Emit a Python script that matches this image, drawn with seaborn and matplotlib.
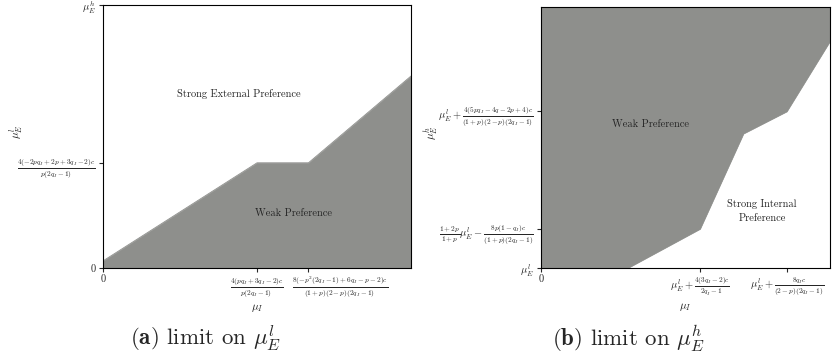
import matplotlib
matplotlib.use("Agg")
import matplotlib.pyplot as plt
import matplotlib.transforms as mtransforms
import seaborn as sns
import pandas as pd

sns.set_style("ticks")
plt.rcParams['font.family'] = ['cmr10', 'DejaVu Serif']
plt.rcParams['mathtext.fontset'] = 'cm'
plt.rcParams['axes.unicode_minus'] = False
plt.rcParams['axes.formatter.use_mathtext'] = True

GRAY = '#8e8f8c'

# panel (a): upper edge of the weak preference region
a_x = [0.0, 5.0, 6.67, 10.0]
a_y = [0.27, 4.0, 4.0, 7.3]
a_xticks = [0.0, 5.0, 6.67]
a_xticklabels = ['0',
                 r'$\frac{4(pq_I+3q_I-2)c}{p(2q_I-1)}$',
                 r'$\frac{8(-p^2(2q_I-1)+6q_I-p-2)c}{(1+p)(2-p)(2q_I-1)}$']
a_yticks = [0.0, 4.0, 10.0]
a_yticklabels = ['0',
                 r'$\frac{4(-2pq_I+2p+3q_I-2)c}{p(2q_I-1)}$',
                 r'$\mu_E^h$']

# panel (b): lower edge of the weak preference region
b_x = [0.0, 3.0, 5.5, 7.0, 8.5, 10.0]
b_y = [0.0, 0.0, 1.5, 5.15, 6.0, 8.7]
b_xticks = [0.0, 5.5, 8.5]
b_xticklabels = ['0',
                 r'$\mu_E^l+\frac{4(3q_I-2)c}{2q_I-1}$',
                 r'$\mu_E^l+\frac{8q_Ic}{(2-p)(2q_I-1)}$']
b_yticks = [0.0, 1.5, 6.0]
b_yticklabels = [r'$\mu_E^l$',
                 r'$\frac{1+2p}{1+p}\mu_E^l-\frac{8p(1-q_I)c}{(1+p)(2q_I-1)}$',
                 r'$\mu_E^l+\frac{4(5pq_I-4q-2p+4)c}{(1+p)(2-p)(2q_I-1)}$']

fig = plt.figure(figsize=(8.33, 3.6), dpi=100)
ax1 = fig.add_axes([0.1237, 0.2556, 0.3697, 0.7305])
ax2 = fig.add_axes([0.6495, 0.2556, 0.347, 0.7250])

# (a)
df_a = pd.DataFrame({'x': a_x, 'y': a_y})
sns.lineplot(data=df_a, x='x', y='y', ax=ax1, color=GRAY, lw=0.6, zorder=1)
ax1.fill_between(a_x, 0, a_y, facecolor=GRAY, edgecolor=GRAY, lw=0.5, zorder=2)
ax1.set_xlim(0, 10)
ax1.set_ylim(0, 10)
ax1.set_xticks(a_xticks)
ax1.set_xticklabels(a_xticklabels)
ax1.set_yticks(a_yticks)
ax1.set_yticklabels(a_yticklabels)
ax1.set_xlabel(r'$\mu_I$', fontsize=8, labelpad=2)
ax1.set_ylabel(r'$\mu_E^l$', fontsize=8)
ax1.yaxis.set_label_coords(-0.255, 0.52)
ax1.text(4.4, 6.6, 'Strong External Preference', ha='center', va='center', fontsize=7.5)
ax1.text(6.2, 2.1, 'Weak Preference', ha='center', va='center', fontsize=7.5)

# (b)
df_b = pd.DataFrame({'x': b_x, 'y': b_y})
sns.lineplot(data=df_b, x='x', y='y', ax=ax2, color=GRAY, lw=0.6, zorder=1)
ax2.fill_between(b_x, b_y, 10, facecolor=GRAY, edgecolor=GRAY, lw=0.5, zorder=2)
ax2.set_xlim(0, 10)
ax2.set_ylim(0, 10)
ax2.set_xticks(b_xticks)
ax2.set_xticklabels(b_xticklabels)
ax2.set_yticks(b_yticks)
ax2.set_yticklabels(b_yticklabels)
ax2.set_xlabel(r'$\mu_I$', fontsize=8, labelpad=2)
ax2.set_ylabel(r'$\mu_E^h$', fontsize=8)
ax2.yaxis.set_label_coords(-0.35, 0.52)
ax2.text(3.77, 5.5, 'Weak Preference', ha='center', va='center', fontsize=7.5)
ax2.text(7.65, 2.2, 'Strong Internal\nPreference', ha='center', va='center',
         fontsize=7.5, linespacing=1.6)

for ax in (ax1, ax2):
    ax.tick_params(labelsize=7.5, length=3, width=0.8, pad=2)
    for s in ax.spines.values():
        s.set_linewidth(0.8)
        s.set_color('black')
        s.set_zorder(3)

# the long fraction under panel (a) sits to the right of its tick
lbl = ax1.get_xticklabels()[2]
lbl.set_transform(lbl.get_transform() + mtransforms.ScaledTranslation(32 / 100, 0, fig.dpi_scale_trans))

fig.text(0.247, 0.06, r'$\mathbf{(a)}$ limit on $\mu_E^l$', ha='center', va='center', fontsize=16.5)
fig.text(0.754, 0.06, r'$\mathbf{(b)}$ limit on $\mu_E^h$', ha='center', va='center', fontsize=16.5)

fig.savefig('out.png', dpi=100)
plt.close(fig)
